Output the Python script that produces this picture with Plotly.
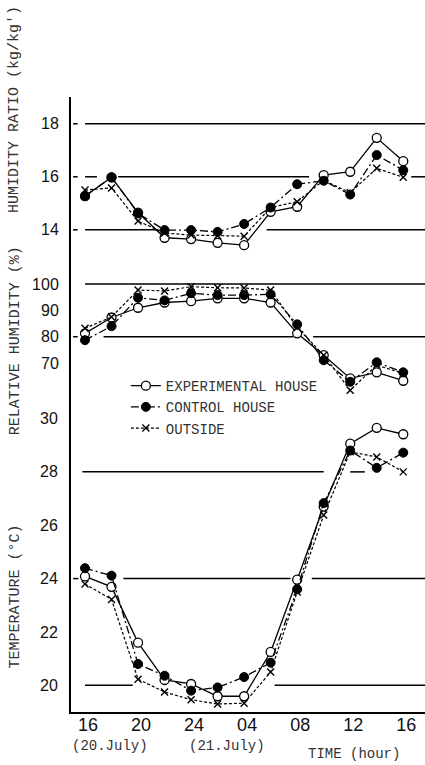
import plotly.graph_objects as go

# hora del día (20 julio 16h -> 21 julio 16h)
hours = [16, 18, 20, 22, 24, 26, 28, 30, 32, 34, 36, 38, 40]
tick_hours = [16, 20, 24, 28, 32, 36, 40]
tick_text = ["16", "20", "24", "04", "08", "12", "16"]

series_names = ["EXPERIMENTAL HOUSE", "CONTROL HOUSE", "OUTSIDE"]

temp_exp = [24.08, 23.69, 21.6, 20.2, 20.05, 19.59, 19.59, 21.25, 23.96, 26.7, 29.06, 29.65, 29.41]
temp_ctrl = [24.39, 24.11, 20.8, 20.36, 19.8, 19.92, 20.31, 20.85, 23.6, 26.83, 28.8, 28.15, 28.72]
temp_out = [23.8, 23.22, 20.23, 19.75, 19.46, 19.3, 19.33, 20.5, 23.5, 26.38, 28.75, 28.56, 28.0]

rh_exp = [81.3, 87.3, 91.0, 93.0, 93.5, 94.6, 94.6, 93.0, 81.3, 73.0, 64.2, 66.5, 63.3]
rh_ctrl = [78.7, 84.0, 94.8, 93.8, 96.5, 95.8, 95.8, 96.1, 84.7, 71.1, 62.9, 70.3, 66.5]
rh_out = [83.2, 87.5, 97.7, 97.4, 99.0, 98.6, 98.5, 97.7, 83.5, 73.0, 59.7, 69.2, 66.1]

hr_exp = [15.27, 15.98, 14.65, 13.7, 13.65, 13.51, 13.42, 14.68, 14.87, 16.06, 16.19, 17.47, 16.59]
hr_ctrl = [15.27, 15.98, 14.62, 13.99, 13.99, 13.92, 14.22, 14.84, 15.72, 15.85, 15.33, 16.82, 16.25]
hr_out = [15.5, 15.58, 14.33, 13.88, 13.8, 13.78, 13.76, 14.84, 15.06, 15.87, 15.4, 16.32, 15.98]

temp_ticks = [20, 22, 24, 26, 28, 30]
rh_ticks = [70, 80, 90, 100]
hr_ticks = [14, 16, 18]

MONO = "Liberation Mono"
SANS = "Liberation Sans"

estilos = [
    dict(line=dict(color="black", width=1.3, dash="solid"),
         marker=dict(symbol="circle", size=9, color="white", line=dict(color="black", width=1.3))),
    dict(line=dict(color="black", width=1.3, dash="8px,3px,2px,3px"),
         marker=dict(symbol="circle", size=9, color="black", line=dict(color="black", width=1))),
    dict(line=dict(color="black", width=1.2, dash="3px,2px"),
         marker=dict(symbol="x-thin", size=7, color="black", line=dict(color="black", width=1.4))),
]

fig = go.Figure()

grupos = [
    ("y", [temp_exp, temp_ctrl, temp_out], False),
    ("y2", [rh_exp, rh_ctrl, rh_out], True),
    ("y3", [hr_exp, hr_ctrl, hr_out], False),
]
for eje, datos, leyenda in grupos:
    for nombre, vals, est in zip(series_names, datos, estilos):
        fig.add_trace(go.Scatter(
            x=hours, y=vals, yaxis=eje, name=nombre, mode="lines+markers",
            line=est["line"], marker=est["marker"], legendgroup=nombre,
            showlegend=leyenda,
        ))

# líneas de referencia (con cortes como en el original)
rejilla = [
    ("y3", 18, [(15.1, 15.45), (16.0, 41.7)]),
    ("y3", 16, [(15.1, 15.45), (16.0, 16.9), (18.5, 32.9), (40.6, 41.7)]),
    ("y3", 14, [(15.1, 15.45), (16.0, 21.5), (29.7, 41.7)]),
    ("y2", 100, [(16.0, 41.7)]),
    ("y2", 80, [(15.1, 15.45), (17.4, 31.7), (33.2, 41.7)]),
    ("y", 28, [(15.8, 34.0), (36.0, 37.1)]),
    ("y", 24, [(15.1, 15.5), (18.9, 31.5), (33.1, 41.7)]),
    ("y", 20, [(16.0, 19.6), (30.3, 41.7)]),
]
for eje, valor, tramos in rejilla:
    for x0, x1 in tramos:
        fig.add_shape(type="line", xref="x", yref=eje, x0=x0, x1=x1, y0=valor, y1=valor,
                      line=dict(color="black", width=1.5), layer="below")

eje_y = dict(side="left", showgrid=False, zeroline=False, ticks="outside", ticklen=8,
             tickcolor="rgba(0,0,0,0)", tickfont=dict(family=SANS, size=16, color="#111"))

fig.update_layout(
    width=425,
    height=765,
    paper_bgcolor="white",
    plot_bgcolor="white",
    margin=dict(l=71, r=0, t=97, b=53),
    xaxis=dict(range=[14.944, 41.64], showgrid=False, zeroline=False, showline=True,
               linecolor="black", linewidth=2, tickvals=tick_hours, ticktext=tick_text,
               ticks="", ticklabelshift=3, ticklabelstandoff=-5,
               tickfont=dict(family=SANS, size=18, color="#111")),
    yaxis=dict(range=[19.0, 42.05], tickvals=temp_ticks, showline=True, linecolor="black",
               linewidth=2, **eje_y),
    yaxis2=dict(range=[-62.44, 171.0], tickvals=rh_ticks, overlaying="y", showline=False, **eje_y),
    yaxis3=dict(range=[-4.19, 19.01], tickvals=hr_ticks, overlaying="y", showline=False, **eje_y),
    legend=dict(x=0.155, y=0.556, xanchor="left", yanchor="top", bgcolor="rgba(0,0,0,0)",
                font=dict(family=MONO, size=14, color="#333"), tracegroupgap=0),
    showlegend=True,
)

titulos = [
    ("HUMIDITY RATIO (kg/kg')", 0.979),
    ("RELATIVE HUMIDITY (%)", 0.603),
    ("TEMPERATURE (°C)", 0.188),
]
for texto, yp in titulos:
    fig.add_annotation(text=texto, xref="paper", yref="paper", x=-0.158, y=yp, textangle=-90,
                       xanchor="center", yanchor="middle",
                       showarrow=False, font=dict(family=MONO, size=15, color="#333"))

pies = [
    ("(20.July)", 0.11, -0.055),
    ("(21.July)", 0.441, -0.055),
    ("TIME (hour)", 0.80, -0.068),
]
for texto, xp, yp in pies:
    fig.add_annotation(text=texto, xref="paper", yref="paper", x=xp, y=yp,
                       xanchor="center", yanchor="middle",
                       showarrow=False, font=dict(family=MONO, size=14, color="#333"))

fig.write_html("out.html", config={"displayModeBar": False},
               post_script="document.body.style.margin='0';document.body.style.overflow='hidden';")
